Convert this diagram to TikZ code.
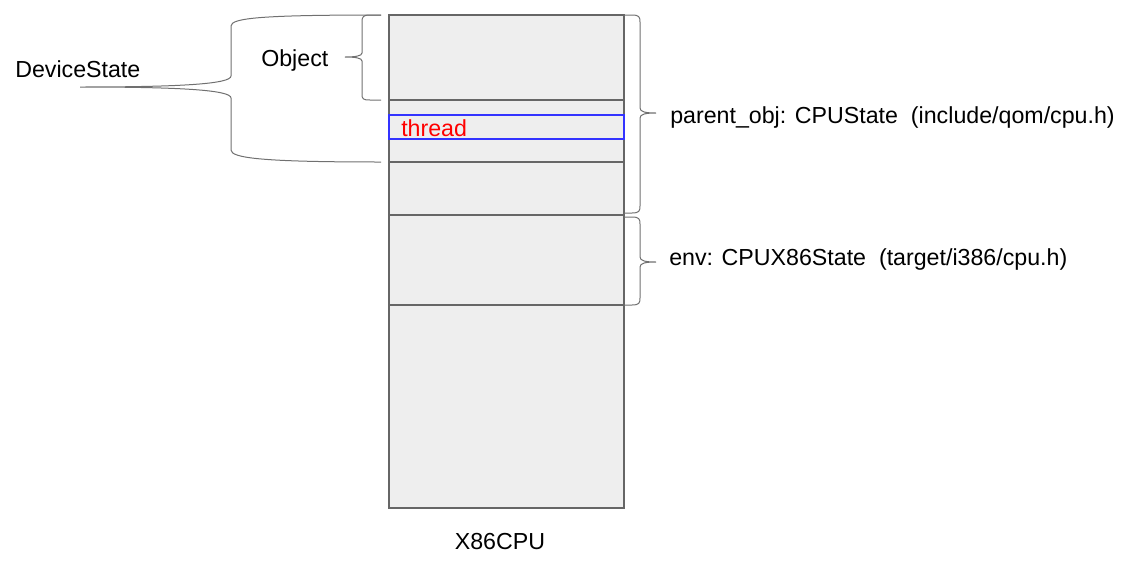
\documentclass[tikz,border=0pt]{standalone}
\usepackage{fontspec}
\setmainfont{Liberation Sans}

\definecolor{cellgray}{HTML}{EEEEEE}
\definecolor{edgegray}{HTML}{666666}
\definecolor{bracegray}{HTML}{707070}

\begin{document}
\begin{tikzpicture}[
    x=0.75pt, y=-0.75pt,
    cell/.style={draw=edgegray, fill=cellgray, line width=0.9pt},
    sep/.style={draw=edgegray, line width=0.9pt},
    slot/.style={draw=blue!80, line width=0.8pt},
    brace/.style={draw=bracegray, line width=0.75pt},
    label/.style={font=\fontsize{17.4}{20}\selectfont, inner sep=0pt, anchor=base west}
]
    \useasboundingbox (0,0) rectangle (1135,561);

    % X86CPU memory block
    \draw[cell] (389,15) rectangle (624,508);
    \draw[sep] (389,100) -- (624,100);
    \draw[sep] (389,162) -- (624,162);
    \draw[sep] (389,215) -- (624,215);
    \draw[sep] (389,305) -- (624,305);
    \draw[slot] (389,115) rectangle (624,139);

    \node[label, text=red] (thread) at (401,136) {thread};
    \node[label, anchor=base] (cpu) at (500,549) {X86CPU};

    % left side
    \node[label] (devstate) at (15,77) {DeviceState};
    \node[label] (object) at (261,66) {Object};

    \draw[brace] (381,15) .. controls (262,15) and (231,18) .. (231,26) -- (231,76)
        .. controls (231,84) and (180,87) .. (80,87)
        .. controls (180,87) and (231,90) .. (231,98) -- (231,150)
        .. controls (231,158) and (262,162) .. (381,162);
    \draw[brace] (381,15) -- (370,15) .. controls (363,15) and (362,17) .. (362,22) -- (362,53)
        .. controls (362,56) and (355,57) .. (345,57)
        .. controls (355,57) and (362,58) .. (362,61) -- (362,94)
        .. controls (362,99) and (363,100) .. (370,100) -- (381,100);

    % right side
    \node[label] (parent) at (670,123) {parent\_obj: CPUState\ \ (include/qom/cpu.h)};
    \node[label] (env) at (669,265) {env: CPUX86State\ \ (target/i386/cpu.h)};

    \draw[brace] (624,15) -- (632,15) .. controls (639,15) and (640,17) .. (640,22) -- (640,108)
        .. controls (640,112) and (646,113) .. (656,113)
        .. controls (646,113) and (640,114) .. (640,118) -- (640,206)
        .. controls (640,211) and (639,213) .. (632,213) -- (624,213);
    \draw[brace] (624,217) -- (632,217) .. controls (639,217) and (640,219) .. (640,224) -- (640,257)
        .. controls (640,261) and (646,262) .. (656,262)
        .. controls (646,262) and (640,263) .. (640,267) -- (640,298)
        .. controls (640,303) and (639,305) .. (632,305) -- (624,305);
\end{tikzpicture}
\end{document}
